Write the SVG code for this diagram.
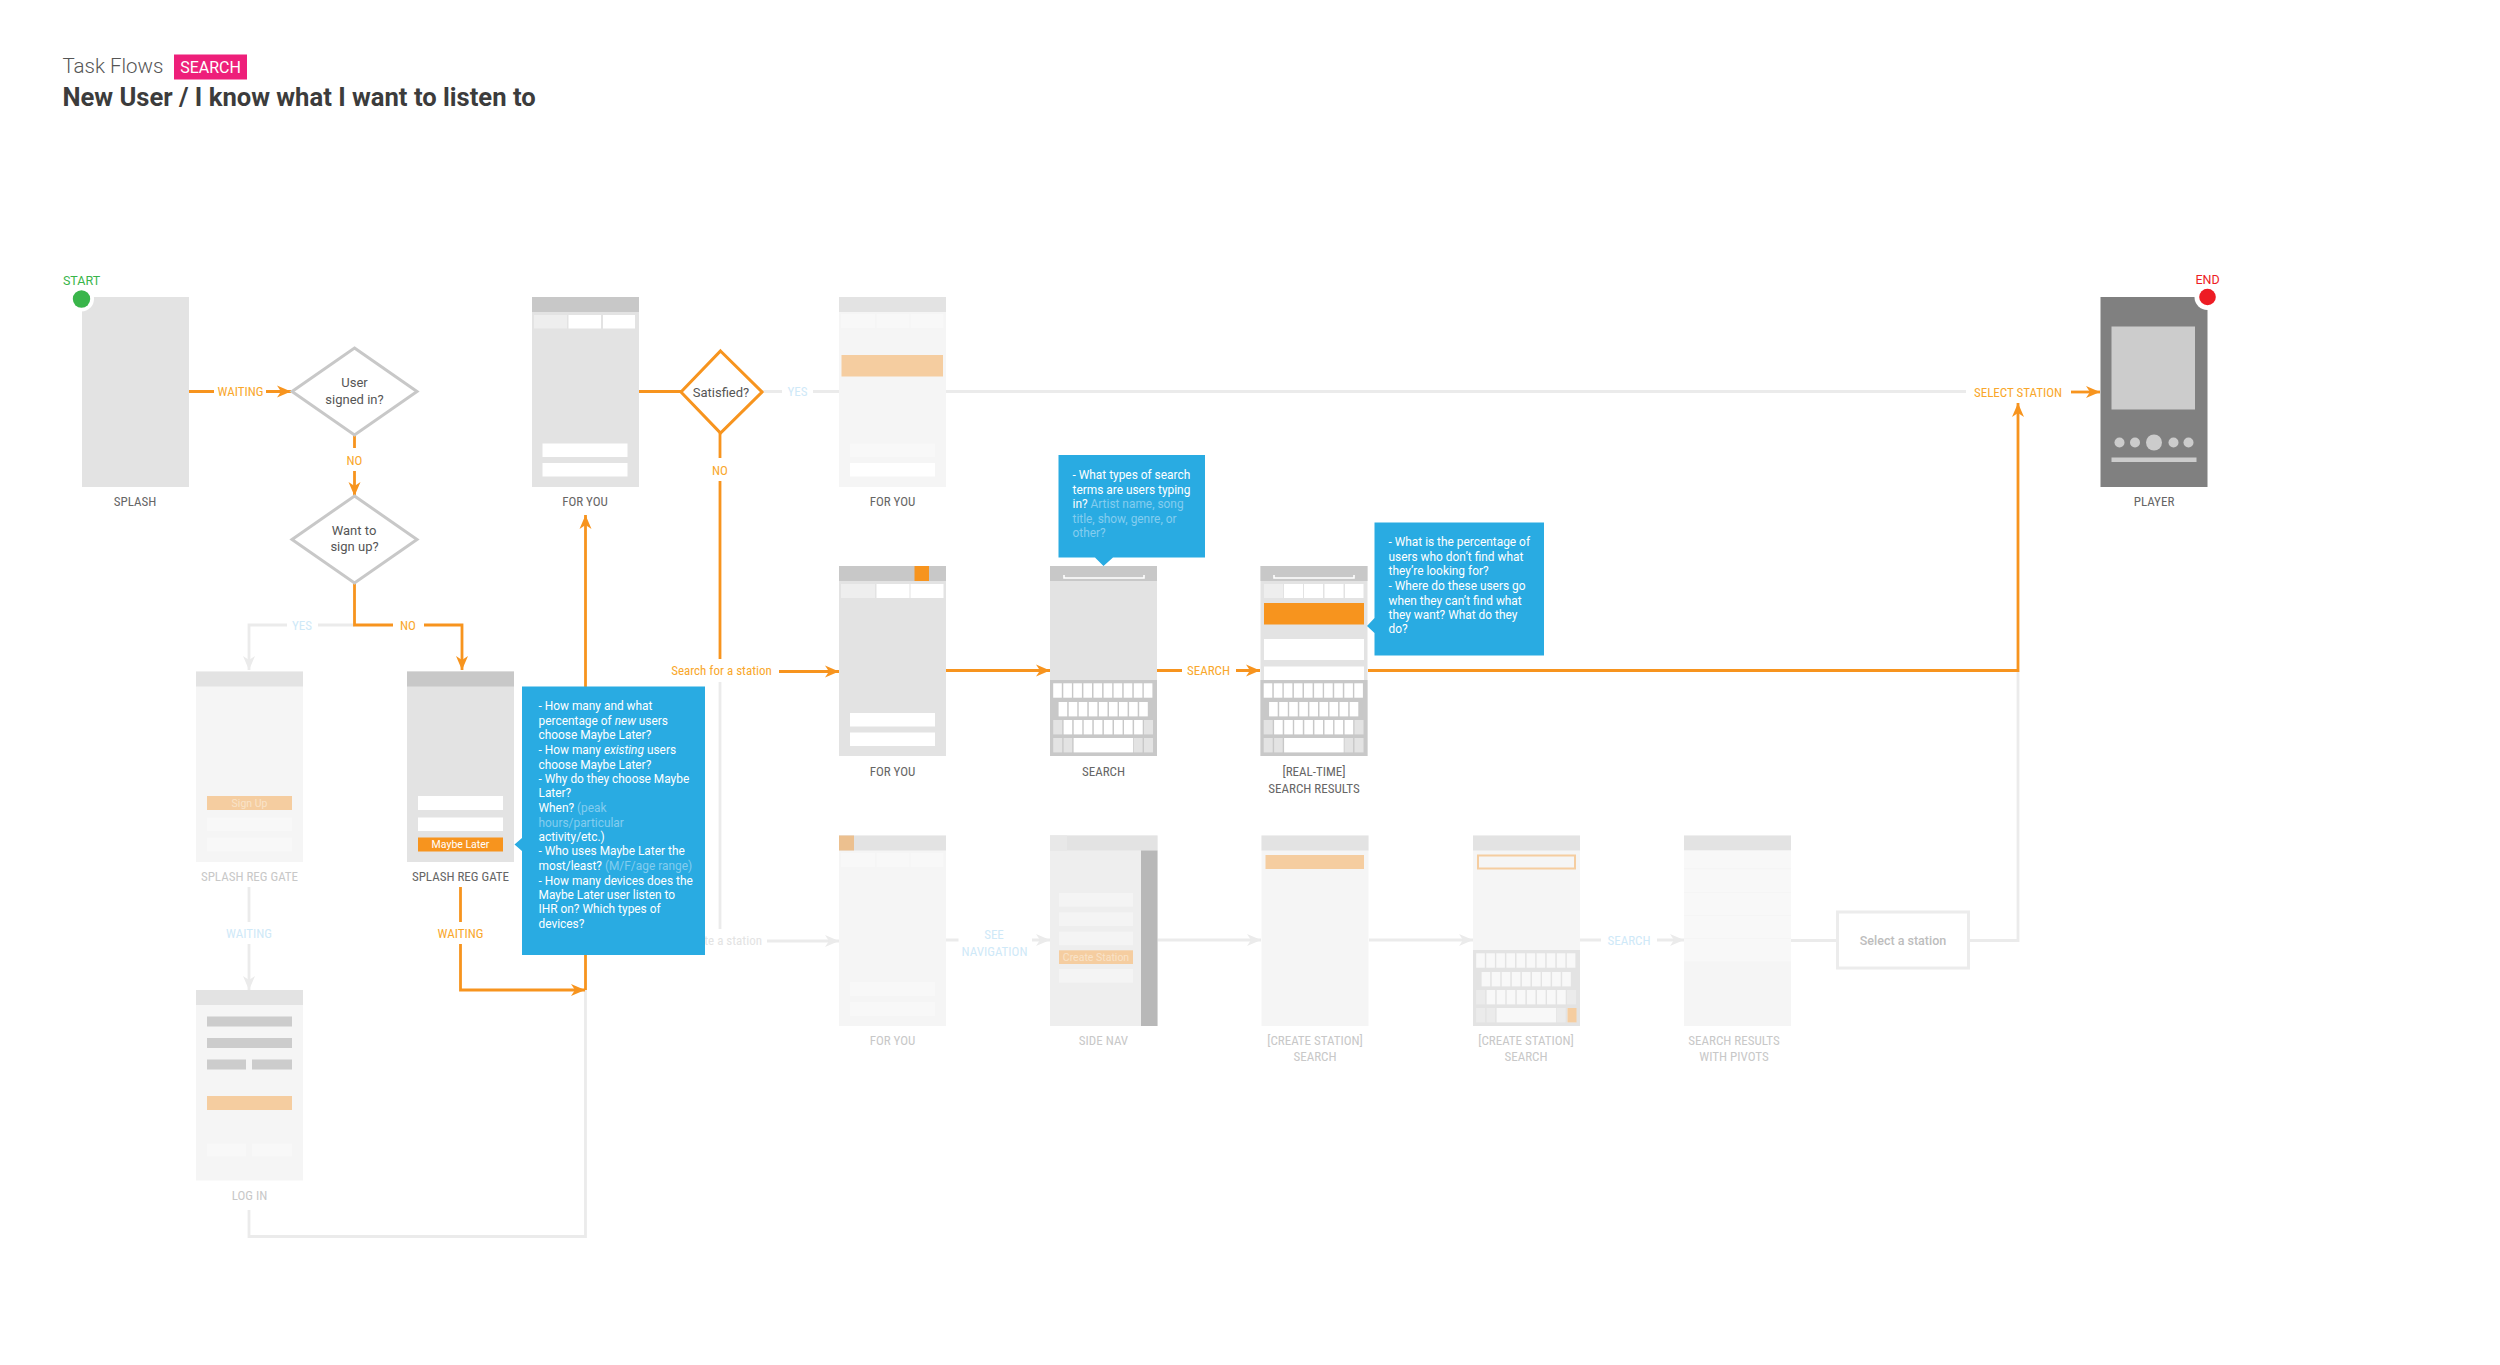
<svg xmlns="http://www.w3.org/2000/svg" width="2500" height="1365" viewBox="0 0 2500 1365">
<style>
text{font-family:Roboto,"Liberation Sans",sans-serif}
.bd{fill:#e3e3e3}.hd{fill:#c8c8c8}.fbd{fill:#f5f5f5}.fhd{fill:#e3e3e3}
.w{fill:#fff}.tab{fill:#eee}.ft{fill:#f8f8f8}.po{fill:#f5cda0}.o{fill:#f7941e}
.lb{font-size:13px;fill:#666;text-anchor:middle;font-stretch:87%}
.fl{font-size:13px;fill:#c8c8c8;text-anchor:middle;font-stretch:87%}
.ol{font-size:13px;fill:#f9a72b;text-anchor:middle;font-stretch:87%}
.bl{font-size:13px;fill:#cfe9f8;text-anchor:middle;font-stretch:87%}
.dt{font-size:13px;fill:#555;text-anchor:middle}
.q{font-size:11.9px;fill:#fff}.qf{fill:#84cdef}
.blue{fill:#29abe2}
.c{fill:none;stroke-width:2.8}
.co{stroke:#f7941e}.cg{stroke:#ebebeb}
.ao{marker-end:url(#ao)}.ag{marker-end:url(#ag)}
.key{fill:var(--k,#fff)}.kb{fill:var(--b,#c8c8c8)}.ks{fill:var(--s,#e3e3e3)}
</style>
<defs>
<marker id="ao" markerUnits="userSpaceOnUse" markerWidth="15" markerHeight="14" refX="14" refY="6.5" orient="auto"><path d="M0 0.5L14 6.5L0 12.5L4 6.5Z" fill="#f7941e"/></marker>
<marker id="ag" markerUnits="userSpaceOnUse" markerWidth="15" markerHeight="14" refX="14" refY="6.5" orient="auto"><path d="M0 0.5L14 6.5L0 12.5L4 6.5Z" fill="#ebebeb"/></marker>
<g id="keyboard">
<rect class="kb" width="107" height="76"/>
<g class="key"><rect x="3.2" y="3.3" width="8.6" height="14.4"/><rect x="13.3" y="3.3" width="8.6" height="14.4"/><rect x="23.3" y="3.3" width="8.6" height="14.4"/><rect x="33.4" y="3.3" width="8.6" height="14.4"/><rect x="43.5" y="3.3" width="8.6" height="14.4"/><rect x="53.6" y="3.3" width="8.6" height="14.4"/><rect x="63.6" y="3.3" width="8.6" height="14.4"/><rect x="73.7" y="3.3" width="8.6" height="14.4"/><rect x="83.8" y="3.3" width="8.6" height="14.4"/><rect x="93.8" y="3.3" width="8.6" height="14.4"/>
<rect x="8.6" y="22" width="8.6" height="14.4"/><rect x="18.7" y="22" width="8.6" height="14.4"/><rect x="28.7" y="22" width="8.6" height="14.4"/><rect x="38.8" y="22" width="8.6" height="14.4"/><rect x="48.9" y="22" width="8.6" height="14.4"/><rect x="59" y="22" width="8.6" height="14.4"/><rect x="69" y="22" width="8.6" height="14.4"/><rect x="79.1" y="22" width="8.6" height="14.4"/><rect x="89.2" y="22" width="8.6" height="14.4"/>
<rect x="13.6" y="40" width="8.6" height="14.4"/><rect x="23.7" y="40" width="8.6" height="14.4"/><rect x="33.7" y="40" width="8.6" height="14.4"/><rect x="43.8" y="40" width="8.6" height="14.4"/><rect x="53.9" y="40" width="8.6" height="14.4"/><rect x="64" y="40" width="8.6" height="14.4"/><rect x="74" y="40" width="8.6" height="14.4"/><rect x="84.1" y="40" width="8.6" height="14.4"/>
<rect x="23.6" y="58" width="59.6" height="14.4"/></g>
<g class="ks"><rect x="3.2" y="40" width="9" height="14.4"/><rect x="94" y="40" width="9" height="14.4"/><rect x="3.2" y="58" width="9" height="14.4"/><rect x="13.6" y="58" width="8.6" height="14.4"/><rect x="84" y="58" width="8.6" height="14.4"/><rect x="94" y="58" width="9" height="14.4"/></g>
</g>
<path id="bracket" d="M1 0V3H81V0" fill="none" stroke="#fff" stroke-width="1.6"/>
</defs>
<rect width="2500" height="1365" fill="#fff"/>

<g id="title">
<text x="62.4" y="73" font-size="20.5" font-weight="300" fill="#555">Task Flows</text>
<rect x="174" y="54.5" width="73" height="25" fill="#ee1f7a"/>
<text x="210.5" y="72.5" font-size="16" fill="#fff" text-anchor="middle">SEARCH</text>
<text x="62.4" y="106" font-size="25.6" font-weight="700" fill="#3c3c3c">New User / I know what I want to listen to</text>
</g>

<g id="connectors">
<g class="cg c">
<path d="M762 391.5H782M813 391.5H839M946 391.5H1966"/>
<path d="M354.5 625H318M287 625H249V670" class="ag"/>
<path d="M249 887V922M249 944V990" class="ag"/>
<path d="M249 1210V1236.5H585.5V990"/>
<path d="M720 682V929"/>
<path d="M767 941H839" class="ag"/>
<path d="M946 940H958.5M1032 940H1050" class="ag"/>
<path d="M1157.5 940H1261" class="ag"/>
<path d="M1369 940H1473" class="ag"/>
<path d="M1580 940H1601M1657 940H1684" class="ag"/>
<path d="M1791 940.5H1836M1970 940.5H2018V671"/>
</g>
<g class="co c">
<path d="M189 391.5H214M266 391.5H291" class="ao"/>
<path d="M354.5 435V448M354.5 471V496" class="ao"/>
<path d="M354.5 583V625H393M424 625H462V670" class="ao"/>
<path d="M585.5 990V515" class="ao"/>
<path d="M460.5 887V922M460.5 944V990H585" class="ao"/>
<path d="M639 391.5H681"/>
<path d="M720 433V458M720 481V659"/>
<path d="M779 671.5H839" class="ao"/>
<path d="M946 670.5H1050" class="ao"/>
<path d="M1157 670.5H1182M1236 670.5H1260" class="ao"/>
<path d="M1368 670.5H2018V403" class="ao"/>
<path d="M2071 392H2100" class="ao"/>
</g>
<text class="ol" x="240.5" y="396">WAITING</text>
<text class="ol" x="354.5" y="464.5">NO</text>
<text class="bl" x="302" y="629.5">YES</text>
<text class="ol" x="408" y="629.5">NO</text>
<text class="bl" x="249" y="937.5">WAITING</text>
<text class="ol" x="460.5" y="937.5">WAITING</text>
<text class="bl" x="797.5" y="396">YES</text>
<text class="ol" x="720" y="474.5">NO</text>
<text class="ol" x="721.5" y="675">Search for a station</text>
<text x="762" y="944.5" font-size="13" font-stretch="87%" fill="#e3e3e3" text-anchor="end">Create a station</text>
<text class="ol" x="1208.5" y="675">SEARCH</text>
<text class="bl" x="994" y="938.5">SEE</text>
<text class="bl" x="994.5" y="956">NAVIGATION</text>
<text class="bl" x="1629" y="944.5">SEARCH</text>
<text class="ol" x="2018" y="396.5">SELECT STATION</text>
</g>

<g id="start-splash">
<rect class="bd" x="82" y="297" width="107" height="190"/>
<circle cx="81.5" cy="299" r="12.5" fill="#fff"/>
<circle cx="81.5" cy="299" r="8.7" fill="#39b54a"/>
<text x="81.5" y="285" font-size="12.5" fill="#39b54a" text-anchor="middle">START</text>
<text class="lb" x="135" y="506">SPLASH</text>
</g>

<g id="d-signed-in">
<path d="M354.5 348L417 391.5L354.5 435L292 391.5Z" fill="#fff" stroke="#c8c8c8" stroke-width="3"/>
<text class="dt" x="354.5" y="386.5">User</text><text class="dt" x="354.5" y="404">signed in?</text>
</g>
<g id="d-sign-up">
<path d="M354.5 496L417 539.5L354.5 583L292 539.5Z" fill="#fff" stroke="#c8c8c8" stroke-width="3"/>
<text class="dt" x="354" y="534.5">Want to</text><text class="dt" x="354.5" y="551">sign up?</text>
</g>
<g id="d-satisfied">
<path d="M720.5 351L762 392L720.5 433L681 392Z" fill="#fff" stroke="#f7941e" stroke-width="3"/>
<text class="dt" x="721" y="396.5">Satisfied?</text>
</g>

<g id="foryou-1">
<rect class="bd" x="532" y="297" width="107" height="190"/><rect class="hd" x="532" y="297" width="107" height="15"/>
<rect class="tab" x="534" y="315" width="33" height="13.5"/><rect class="w" x="568.5" y="315" width="32.5" height="13.5"/><rect class="w" x="603" y="315" width="32" height="13.5"/>
<rect class="w" x="542.5" y="443.5" width="85" height="13.5"/><rect class="w" x="542.5" y="463" width="85" height="13.5"/>
<text class="lb" x="585" y="506">FOR YOU</text>
</g>
<g id="foryou-2">
<rect class="fbd" x="839" y="297" width="107" height="190"/><rect class="fhd" x="839" y="297" width="107" height="15"/>
<rect class="ft" x="841" y="314" width="34" height="14"/><rect class="ft" x="876.5" y="314" width="33" height="14"/><rect class="ft" x="910.5" y="314" width="33" height="14"/>
<rect class="po" x="841.5" y="355" width="101.5" height="21.5"/>
<rect class="ft" x="850" y="443.5" width="85" height="13.5"/><rect class="w" x="850" y="463" width="85" height="13.5"/>
<text class="lb" x="892.5" y="506">FOR YOU</text>
</g>
<g id="foryou-3">
<rect class="bd" x="839" y="566" width="107" height="190"/><rect class="hd" x="839" y="566" width="107" height="15"/><rect class="o" x="914.5" y="566" width="14.5" height="15"/>
<rect class="tab" x="841" y="584" width="34" height="14"/><rect class="w" x="876.5" y="584" width="33" height="14"/><rect class="w" x="910.5" y="584" width="33" height="14"/>
<rect class="w" x="850" y="713" width="85" height="13.5"/><rect class="w" x="850" y="732.5" width="85" height="13.5"/>
<text class="lb" x="892.5" y="776">FOR YOU</text>
</g>
<g id="search">
<rect class="bd" x="1050" y="566" width="107" height="190"/><rect class="hd" x="1050" y="566" width="107" height="15"/>
<use href="#bracket" x="1063" y="575"/>
<use href="#keyboard" x="1050" y="680"/>
<text class="lb" x="1103.5" y="776">SEARCH</text>
</g>
<g id="search-results">
<rect class="bd" x="1260.5" y="566" width="107" height="190"/><rect class="hd" x="1260.5" y="566" width="107" height="15"/>
<use href="#bracket" x="1273" y="575"/>
<rect class="tab" x="1264" y="584" width="19" height="14"/><rect class="w" x="1284" y="584" width="19" height="14"/><rect class="w" x="1304" y="584" width="19" height="14"/><rect class="w" x="1324.5" y="584" width="19" height="14"/><rect class="w" x="1345" y="584" width="18.5" height="14"/>
<rect class="o" x="1264" y="603" width="100" height="21.5"/>
<rect class="w" x="1264" y="639" width="100" height="21"/><rect class="w" x="1264" y="666.5" width="100" height="13.5"/>
<use href="#keyboard" x="1260.5" y="680"/>
<text class="lb" x="1314" y="776">[REAL-TIME]</text><text class="lb" x="1314" y="792.5">SEARCH RESULTS</text>
</g>
<g id="player">
<rect x="2100.5" y="297" width="107" height="190" fill="#808080"/>
<circle cx="2207.5" cy="297" r="13" fill="#fff"/>
<circle cx="2207.5" cy="297" r="8.3" fill="#ed1c24"/>
<text x="2207.5" y="283.5" font-size="12.5" fill="#ed1c24" text-anchor="middle">END</text>
<rect x="2111.5" y="326.5" width="83.5" height="83" fill="#ccc"/>
<g fill="#ccc"><circle cx="2119.5" cy="442.5" r="5"/><circle cx="2135" cy="442.5" r="5"/><circle cx="2154" cy="442.5" r="8"/><circle cx="2173.5" cy="442.5" r="5"/><circle cx="2188.5" cy="442.5" r="5"/><rect x="2111.5" y="457.5" width="85" height="4.5"/></g>
<text class="lb" x="2154" y="506">PLAYER</text>
</g>
<g id="reg-gate-faded">
<rect class="fbd" x="196" y="671.5" width="107" height="190.5"/><rect class="fhd" x="196" y="671.5" width="107" height="15"/>
<rect class="po" x="207" y="796" width="85" height="14"/>
<text x="249.5" y="807" font-size="10.5" fill="#f9e3c8" text-anchor="middle">Sign Up</text>
<rect class="ft" x="207" y="817.5" width="85" height="13.5"/><rect class="ft" x="207" y="837.5" width="85" height="14"/>
<text class="fl" x="249.5" y="880.5">SPLASH REG GATE</text>
</g>
<g id="reg-gate">
<rect class="bd" x="407" y="671.5" width="107" height="190.5"/><rect class="hd" x="407" y="671.5" width="107" height="15"/>
<rect class="w" x="418" y="796" width="85" height="14"/><rect class="w" x="418" y="817.5" width="85" height="13.5"/>
<rect class="o" x="418" y="837.5" width="85" height="14"/>
<text x="460.5" y="848" font-size="10.5" fill="#fff" text-anchor="middle">Maybe Later</text>
<text class="lb" x="460.5" y="880.5">SPLASH REG GATE</text>
</g>
<g id="log-in">
<rect class="fbd" x="196" y="990" width="107" height="190.5"/><rect class="fhd" x="196" y="990" width="107" height="15"/>
<g class="hd" opacity=".9"><rect x="207" y="1016.5" width="85" height="10"/><rect x="207" y="1038" width="85" height="10"/><rect x="207" y="1059.5" width="39" height="10"/><rect x="252" y="1059.5" width="40" height="10"/></g>
<rect class="po" x="207" y="1096" width="85" height="14"/>
<rect class="ft" x="207" y="1143.5" width="39" height="13"/><rect class="ft" x="252" y="1143.5" width="40" height="13"/>
<text class="fl" x="249.5" y="1200">LOG IN</text>
</g>
<g id="foryou-4">
<rect class="fbd" x="839" y="835.5" width="107" height="190.5"/><rect class="fhd" x="839" y="835.5" width="107" height="15"/><rect fill="#ecc08f" x="839" y="835.5" width="15" height="15"/>
<rect class="ft" x="841" y="853" width="34" height="14"/><rect class="ft" x="876.5" y="853" width="33" height="14"/><rect class="ft" x="910.5" y="853" width="33" height="14"/>
<rect class="ft" x="850" y="982" width="85" height="14"/><rect class="ft" x="850" y="1002" width="85" height="14"/>
<text class="fl" x="892.5" y="1045">FOR YOU</text>
</g>
<g id="side-nav">
<rect fill="#eee" x="1050" y="835.5" width="107.5" height="190.5"/><rect class="fhd" x="1050" y="835.5" width="107.5" height="15"/><rect fill="#e8e8e8" x="1050" y="835.5" width="17" height="15"/>
<rect fill="#b8b8b8" x="1141" y="850.5" width="16.5" height="175.5"/>
<g fill="#f4f4f4"><rect x="1059" y="893" width="74" height="13.7"/><rect x="1059" y="912.3" width="74" height="13.7"/><rect x="1059" y="931.7" width="74" height="13.5"/><rect x="1059" y="969" width="74" height="13.7"/></g>
<rect class="po" x="1059" y="950.3" width="74" height="13.7"/>
<text x="1096" y="961" font-size="10.5" fill="#f9e3c8" text-anchor="middle">Create Station</text>
<text class="fl" x="1103.5" y="1045">SIDE NAV</text>
</g>
<g id="create-search-1">
<rect class="fbd" x="1261.5" y="835.5" width="107" height="190.5"/><rect class="fhd" x="1261.5" y="835.5" width="107" height="15"/>
<rect class="po" x="1265.5" y="855" width="98.5" height="14"/>
<text class="fl" x="1315" y="1045">[CREATE STATION]</text><text class="fl" x="1315" y="1060.5">SEARCH</text>
</g>
<g id="create-search-2">
<rect class="fbd" x="1473" y="835.5" width="107" height="190.5"/><rect class="fhd" x="1473" y="835.5" width="107" height="15"/>
<rect x="1478" y="855.5" width="97" height="13" fill="none" stroke="#f5cda0" stroke-width="2"/>
<use href="#keyboard" x="1473" y="950" style="--k:#f8f8f8;--b:#e3e3e3;--s:#ebebeb"/>
<rect class="po" x="1567.5" y="1008" width="9" height="14.4"/>
<text class="fl" x="1526" y="1045">[CREATE STATION]</text><text class="fl" x="1526" y="1060.5">SEARCH</text>
</g>
<g id="search-pivots">
<rect class="fbd" x="1684" y="835.5" width="107" height="190.5"/><rect class="fhd" x="1684" y="835.5" width="107" height="15"/>
<rect fill="#f8f8f8" x="1684" y="850.5" width="107" height="111"/>
<g fill="#f5f5f5"><rect x="1684" y="868" width="107" height="1.5"/><rect x="1684" y="892" width="107" height="1"/><rect x="1684" y="915" width="107" height="1"/><rect x="1684" y="938" width="107" height="1"/></g>
<text class="fl" x="1734" y="1045">SEARCH RESULTS</text><text class="fl" x="1734" y="1060.5">WITH PIVOTS</text>
</g>
<g id="select-station">
<rect x="1837.5" y="912" width="131" height="56" fill="#fff" stroke="#ececec" stroke-width="3"/>
<text x="1903" y="944.5" font-size="12.5" font-weight="500" fill="#bdbdbd" text-anchor="middle">Select a station</text>
</g>

<g id="note-1">
<path class="blue" d="M522 686.5H705V955H522V851L514.5 844.5L522 838Z"/>
<g class="q">
<text x="538.5" y="710">- How many and what</text>
<text x="538.5" y="724.5">percentage of <tspan font-style="italic">new</tspan> users</text>
<text x="538.5" y="739">choose Maybe Later?</text>
<text x="538.5" y="754">- How many <tspan font-style="italic">existing</tspan> users</text>
<text x="538.5" y="768.5">choose Maybe Later?</text>
<text x="538.5" y="782.5">- Why do they choose Maybe</text>
<text x="538.5" y="797">Later?</text>
<text x="538.5" y="812">When? <tspan class="qf">(peak</tspan></text>
<text x="538.5" y="826.5" class="qf">hours/particular</text>
<text x="538.5" y="840.5">activity/etc.)</text>
<text x="538.5" y="855">- Who uses Maybe Later the</text>
<text x="538.5" y="870">most/least? <tspan class="qf">(M/F/age range)</tspan></text>
<text x="538.5" y="884.5">- How many devices does the</text>
<text x="538.5" y="899">Maybe Later user listen to</text>
<text x="538.5" y="913">IHR on? Which types of</text>
<text x="538.5" y="928">devices?</text>
</g>
</g>
<g id="note-2">
<path class="blue" d="M1058.5 455H1205V557.5H1113L1103.5 566L1095 557.5H1058.5Z"/>
<g class="q">
<text x="1072.5" y="479">- What types of search</text>
<text x="1072.5" y="494">terms are users typing</text>
<text x="1072.5" y="508">in? <tspan class="qf">Artist name, song</tspan></text>
<text x="1072.5" y="523" class="qf">title, show, genre, or</text>
<text x="1072.5" y="537" class="qf">other?</text>
</g>
</g>
<g id="note-3">
<path class="blue" d="M1374.5 522.5H1544V655.5H1374.5V633L1367 626L1374.5 618Z"/>
<g class="q">
<text x="1388.5" y="546">- What is the percentage of</text>
<text x="1388.5" y="560.5">users who don’t find what</text>
<text x="1388.5" y="575">they’re looking for?</text>
<text x="1388.5" y="590">- Where do these users go</text>
<text x="1388.5" y="604.5">when they can’t find what</text>
<text x="1388.5" y="618.5">they want? What do they</text>
<text x="1388.5" y="633">do?</text>
</g>
</g>
</svg>
